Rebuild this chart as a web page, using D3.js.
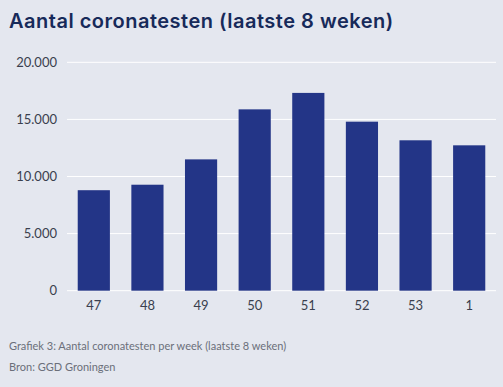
<!DOCTYPE html>
<html lang="nl">
<head>
<meta charset="utf-8">
<title>Aantal coronatesten</title>
<script src="https://cdn.jsdelivr.net/npm/d3@7"></script>
<style>
  body { margin: 0; background: #e4e7ef; }
  svg { display: block; }
</style>
</head>
<body>
<script>
var weeks = ["47", "48", "49", "50", "51", "52", "53", "1"];
var tests = [8800, 9280, 11500, 15880, 17320, 14800, 13170, 12730];
var yTicks = [0, 5000, 10000, 15000, 20000];

var W = 503, H = 387;
var plotLeft = 67, plotRight = 496, plotTop = 62.3, plotBottom = 290.7;

var svg = d3.select("body").append("svg")
  .attr("width", W).attr("height", H);

svg.append("rect").attr("width", W).attr("height", H).attr("fill", "#e4e7ef");

var x = d3.scaleBand().domain(weeks).range([plotLeft, plotRight]).paddingInner(0.4).paddingOuter(0.2);
var y = d3.scaleLinear().domain([0, 20000]).range([plotBottom, plotTop]);

var fmt = function(d) { return d3.format(",")(d).replace(/,/g, "."); };

// gridlijnen
svg.append("g").selectAll("line")
  .data(yTicks).enter().append("line")
  .attr("x1", plotLeft).attr("x2", plotRight)
  .attr("y1", function(d) { return y(d); })
  .attr("y2", function(d) { return y(d); })
  .attr("stroke", "#ffffff").attr("stroke-width", 1);

// balken
svg.append("g").selectAll("rect")
  .data(tests).enter().append("rect")
  .attr("x", function(d, i) { return x(weeks[i]); })
  .attr("width", x.bandwidth())
  .attr("y", function(d) { return y(d); })
  .attr("height", function(d) { return y(0) - y(d); })
  .attr("fill", "#233587");

// y-as labels
var yAxis = d3.axisLeft(y).tickValues(yTicks).tickFormat(fmt).tickSize(0).tickPadding(10);
var ga = svg.append("g").attr("transform", "translate(" + plotLeft + ",0)").call(yAxis);
ga.select(".domain").remove();
ga.selectAll("text").attr("font-family", "Lato, sans-serif").attr("font-size", "13px").attr("fill", "#3a3f4e");

// x-as labels
var xAxis = d3.axisBottom(x).tickSize(0).tickPadding(10);
var gx = svg.append("g").attr("transform", "translate(0," + plotBottom + ")").call(xAxis);
gx.select(".domain").remove();
gx.selectAll("text").attr("font-family", "Lato, sans-serif").attr("font-size", "13px").attr("fill", "#3a3f4e");

// titel
svg.append("text")
  .attr("x", 9).attr("y", 28)
  .attr("font-family", "Inter, 'Open Sans', sans-serif")
  .attr("font-weight", 600)
  .attr("font-size", "20px")
  .attr("letter-spacing", "0.5px")
  .attr("fill", "#172a5a")
  .text("Aantal coronatesten (laatste 8 weken)");

// onderschrift
svg.append("text")
  .attr("x", 9).attr("y", 350)
  .attr("font-family", "Lato, sans-serif").attr("font-size", "11px").attr("fill", "#6b6f7a")
  .text("Grafiek 3: Aantal coronatesten per week (laatste 8 weken)");
svg.append("text")
  .attr("x", 9).attr("y", 371)
  .attr("font-family", "Lato, sans-serif").attr("font-size", "11px").attr("fill", "#6b6f7a")
  .text("Bron: GGD Groningen");
</script>
</body>
</html>
